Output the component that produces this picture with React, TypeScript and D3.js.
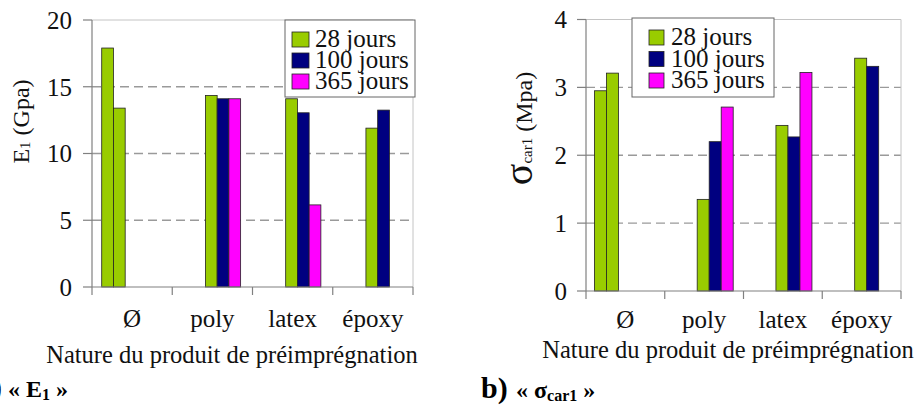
import React from "react";
import * as d3 from "d3";

// ---------- data ----------
const categories = ["Ø", "poly", "latex", "époxy"];
const seriesKeys = ["ref28", "ref100", "j28", "j100", "j365"];
const legendLabels = ["28 jours", "100 jours", "365 jours"];

// Panel a) E1 (GPa)
const e1Ref28 = [17.9, null, null, null];
const e1Ref100 = [13.4, null, null, null];
const e1J28 = [null, 14.35, 14.1, 11.9];
const e1J100 = [null, 14.1, 13.05, 13.25];
const e1J365 = [null, 14.1, 6.15, null];
const e1Ticks = [0, 5, 10, 15, 20];

// Panel b) sigma car1 (MPa)
const sRef28 = [2.95, null, null, null];
const sRef100 = [3.21, null, null, null];
const sJ28 = [null, 1.35, 2.44, 3.43];
const sJ100 = [null, 2.2, 2.27, 3.31];
const sJ365 = [null, 2.71, 3.22, null];
const sTicks = [0, 1, 2, 3, 4];

const xTitle = "Nature du produit de préimprégnation";

// ---------- styles ----------
const GREEN = "#99CC00";
const NAVY = "#000080";
const PINK = "#FF00FF";
const seriesColors = [GREEN, GREEN, GREEN, NAVY, PINK];
const legendColors = [GREEN, NAVY, PINK];
const FONT = "Liberation Serif, DejaVu Serif, serif";
const TXT: React.CSSProperties = { fontFamily: FONT };

type Series = (number | null)[];

interface LegendCfg {
  x: number; y: number; w: number; h: number;
  sw: number; sh: number; sx: number; tx: number; row: number; top: number;
}

interface PanelProps {
  series: Series[];
  ticks: number[];
  x0: number;
  x1: number;
  yTop: number;
  yBottom: number;
  padOuter: number;
  catLabelY: number;
  xTitleX: number;
  xTitleY: number;
  tickLabelX: number;
  legend: LegendCfg;
  yTitle: React.ReactNode;
}

function Panel(p: PanelProps) {
  const max = d3.max(p.ticks) as number;
  const y = d3.scaleLinear().domain([0, max]).range([p.yBottom, p.yTop]);
  const x = d3.scaleBand<string>().domain(categories).range([p.x0, p.x1]).paddingInner(0).paddingOuter(0);
  const xs = d3
    .scaleBand<string>()
    .domain(seriesKeys)
    .range([0, x.bandwidth()])
    .paddingInner(0)
    .paddingOuter(p.padOuter)
    .align(0.45);
  const boundaries = categories.map((c) => x(c) as number).concat([p.x1]);
  const L = p.legend;

  return (
    <g>
      {/* grid */}
      {p.ticks
        .filter((t) => t > 0 && t < max)
        .map((t) => (
          <line key={"g" + t} x1={p.x0} x2={p.x1} y1={y(t)} y2={y(t)} stroke="#9a9a9a" strokeWidth={1.3} strokeDasharray="9,5" />
        ))}
      {/* plot border top/right */}
      <line x1={p.x0} x2={p.x1} y1={y(max)} y2={y(max)} stroke="#c4c4c4" strokeWidth={1} />
      <line x1={p.x1} x2={p.x1} y1={y(max)} y2={p.yBottom} stroke="#c4c4c4" strokeWidth={1} />
      {/* bars */}
      {p.series.map((s, si) =>
        s.map((v, ci) =>
          v == null ? null : (
            <rect
              key={si + "-" + ci}
              x={(x(categories[ci]) as number) + (xs(seriesKeys[si]) as number)}
              y={y(v)}
              width={xs.bandwidth()}
              height={y(0) - y(v)}
              fill={seriesColors[si]}
              stroke="#222"
              strokeWidth={0.8}
            />
          )
        )
      )}
      {/* axes */}
      <line x1={p.x0} x2={p.x0} y1={y(max)} y2={p.yBottom} stroke="#808080" strokeWidth={1.2} />
      <line x1={p.x0} x2={p.x1} y1={p.yBottom} y2={p.yBottom} stroke="#808080" strokeWidth={1.2} />
      {p.ticks.map((t) => (
        <g key={"t" + t}>
          <line x1={p.x0 - 9} x2={p.x0} y1={y(t)} y2={y(t)} stroke="#808080" strokeWidth={1.2} />
          <text style={TXT} x={p.tickLabelX} y={y(t)} dy="0.35em" textAnchor="end" fontSize={25} fill="#111">
            {t}
          </text>
        </g>
      ))}
      {boundaries.map((bx, i) => (
        <line key={"b" + i} x1={bx} x2={bx} y1={p.yBottom} y2={p.yBottom + 8} stroke="#808080" strokeWidth={1.2} />
      ))}
      {categories.map((c) => (
        <text style={TXT} key={c} x={(x(c) as number) + x.bandwidth() / 2} y={p.catLabelY} textAnchor="middle" fontSize={25} fill="#111">
          {c}
        </text>
      ))}
      <text style={TXT} x={p.xTitleX} y={p.xTitleY} textAnchor="middle" fontSize={24.5} fill="#111">
        {xTitle}
      </text>
      {p.yTitle}
      {/* legend */}
      <rect x={L.x} y={L.y} width={L.w} height={L.h} fill="#fff" stroke="#666" strokeWidth={1} />
      {legendLabels.map((l, i) => (
        <g key={l}>
          <rect
            x={L.sx}
            y={L.top + i * L.row}
            width={L.sw}
            height={L.sh}
            fill={legendColors[i]}
            stroke="#222"
            strokeWidth={0.8}
          />
          <text style={TXT} x={L.tx} y={L.top + i * L.row + L.sh} fontSize={25} fill="#111">
            {l}
          </text>
        </g>
      ))}
    </g>
  );
}

export default function App() {
  return (
    <svg
      width={914}
      height={406}
      viewBox="0 0 914 406"
      style={{ position: "absolute", left: 0, top: 0, background: "#fff", fontFamily: FONT }}
    >
      <rect x={0} y={0} width={914} height={406} fill="#fff" />
      <Panel
        series={[e1Ref28, e1Ref100, e1J28, e1J100, e1J365]}
        ticks={e1Ticks}
        x0={92}
        x1={413}
        yTop={20}
        yBottom={287}
        padOuter={0.92}
        catLabelY={327}
        xTitleX={232}
        xTitleY={363}
        tickLabelX={72}
        legend={{ x: 285, y: 20, w: 130, h: 77, sw: 17, sh: 15, sx: 292, tx: 315, row: 21, top: 32 }}
        yTitle={
          <text style={TXT} transform="translate(29,121.5) rotate(-90)" textAnchor="middle" fontSize={24} fill="#111">
            E<tspan fontSize={15} dy={1}>1</tspan>
            <tspan dy={-1}> (Gpa)</tspan>
          </text>
        }
      />
      <Panel
        series={[sRef28, sRef100, sJ28, sJ100, sJ365]}
        ticks={sTicks}
        x0={586}
        x1={901}
        yTop={19.5}
        yBottom={291}
        padOuter={0.78}
        catLabelY={328}
        xTitleX={728}
        xTitleY={358}
        tickLabelX={567}
        legend={{ x: 632, y: 18, w: 142, h: 79, sw: 15, sh: 15, sx: 649, tx: 671, row: 21.5, top: 30 }}
        yTitle={
          <text style={TXT} transform="translate(532,128.5) rotate(-90)" textAnchor="middle" fill="#111">
            <tspan fontSize={40}>σ</tspan>
            <tspan fontSize={15}>car1</tspan>
            <tspan fontSize={24}> (Mpa)</tspan>
          </text>
        }
      />
      {/* captions */}
      <g fontWeight="bold" fill="#000">
        <text style={TXT} x={2} y={397} textAnchor="end" fontSize={30}>
          a)
        </text>
        <text style={TXT} x={8} y={397} fontSize={24}>
          « E<tspan fontSize={16} dy={3}>1</tspan>
          <tspan dy={-3}> »</tspan>
        </text>
        <text style={TXT} x={481} y={398} fontSize={30}>
          b)
        </text>
        <text style={TXT} x={516} y={398} fontSize={24}>
          « σ<tspan fontSize={16} dy={3}>car1</tspan>
          <tspan dy={-3}> »</tspan>
        </text>
      </g>
    </svg>
  );
}
